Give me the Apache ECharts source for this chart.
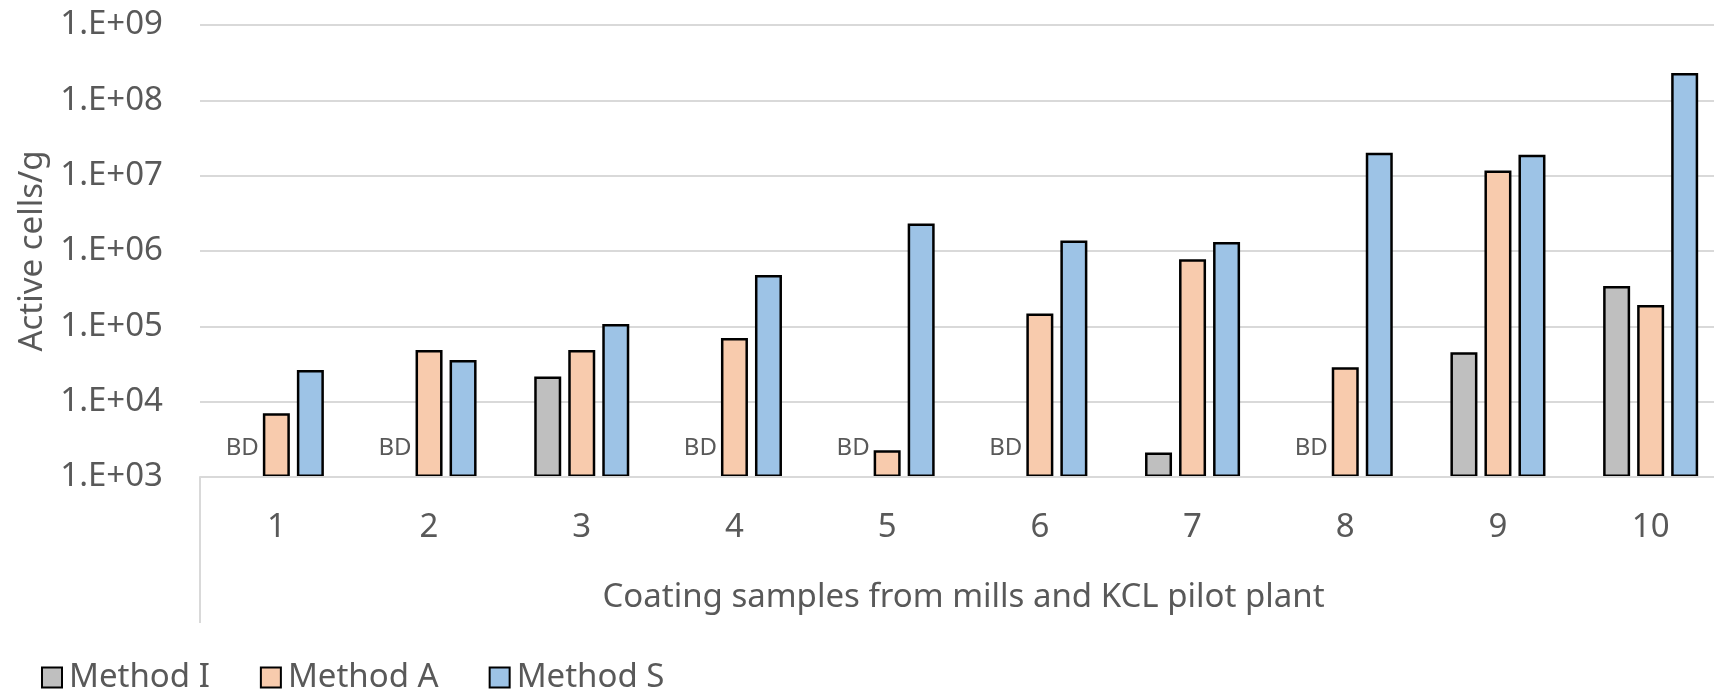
<!DOCTYPE html>
<html>
<head>
<meta charset="utf-8">
<title>Active cells/g</title>
<script src="https://cdn.jsdelivr.net/npm/echarts@6/dist/echarts.min.js"></script>
<style>
  html, body { margin: 0; padding: 0; background: #fff; }
  #chart { width: 1714px; height: 692px; }
</style>
</head>
<body>
<div id="chart"></div>
<script>
// samples on the x axis
const samples = ['1', '2', '3', '4', '5', '6', '7', '8', '9', '10']
// null = below detection (BD)
const methodI = [null, null, 21500, null, null, null, 2110, null, 45300, 344000]
const methodA = [7000, 48600, 48600, 70100, 2260, 148000, 778000, 28600, 11700000, 192000]
const methodS = [26300, 35800, 107000, 482000, 2320000, 1380000, 1320000, 20100000, 18900000, 230000000]
const yTickLabels = ['1.E+03', '1.E+04', '1.E+05', '1.E+06', '1.E+07', '1.E+08', '1.E+09']

const yMin = 1000
const textColor = '#595959'
const font = 'Noto Sans'

let myChart = echarts.init(document.getElementById('chart'), null, { renderer: 'canvas' })

const barStyle = color => ({ color: color, borderColor: '#000', borderWidth: 2.5 })

myChart.setOption({
  animation: false,
  textStyle: { fontFamily: font, color: textColor },
  grid: {
    left: 200,
    right: -13,
    top: 25,
    height: 452,
    outerBoundsMode: 'none'
  },
  legend: {
    data: ['Method I', 'Method A', 'Method S'],
    left: 36,
    top: 656,
    icon: 'rect',
    itemWidth: 20,
    itemHeight: 20,
    itemGap: 50,
    textStyle: { fontFamily: font, fontSize: 33, color: textColor, padding: [0, 0, 0, 2] }
  },
  xAxis: {
    type: 'category',
    data: samples,
    z: 5,
    name: 'Coating samples from mills and KCL pilot plant',
    nameLocation: 'middle',
    nameGap: 104,
    nameTextStyle: { fontFamily: font, fontSize: 33, color: textColor },
    axisLine: { lineStyle: { color: '#d9d9d9', width: 2 } },
    axisTick: { show: false },
    axisLabel: { fontFamily: font, fontSize: 33, color: textColor, margin: 34 }
  },
  yAxis: {
    type: 'log',
    logBase: 10,
    min: yMin,
    max: 1e9,
    interval: 1,
    startValue: yMin,
    name: 'Active cells/g',
    nameLocation: 'middle',
    nameGap: 150,
    nameTextStyle: { fontFamily: font, fontSize: 33, color: textColor },
    axisLine: { show: false },
    axisTick: { show: false },
    splitLine: { lineStyle: { color: '#d9d9d9', width: 2 } },
    axisLabel: {
      fontFamily: font,
      fontSize: 33,
      color: textColor,
      margin: 37,
      formatter: v => yTickLabels[Math.round(Math.log10(v)) - 3]
    }
  },
  series: [
    {
      name: 'Method I',
      type: 'bar',
      barWidth: 27,
      barGap: '26%',
      clip: true,
      itemStyle: barStyle('#bfbfbf'),
      data: methodI.map(v => v === null
        ? {
            value: yMin,
            itemStyle: { color: 'rgba(0,0,0,0)', borderWidth: 0 },
            label: { show: true, position: 'top', distance: 17, formatter: 'BD', fontFamily: font, fontSize: 24, color: textColor }
          }
        : v)
    },
    {
      name: 'Method A',
      type: 'bar',
      barWidth: 27,
      barGap: '26%',
      clip: true,
      itemStyle: barStyle('#f8cbad'),
      data: methodA
    },
    {
      name: 'Method S',
      type: 'bar',
      barWidth: 27,
      barGap: '26%',
      clip: true,
      itemStyle: barStyle('#9dc3e6'),
      data: methodS
    }
  ],
  graphic: [
    {
      type: 'line',
      shape: { x1: 200, y1: 477, x2: 200, y2: 623 },
      style: { stroke: '#d9d9d9', lineWidth: 2 }
    }
  ]
})

window.addEventListener('resize', () => { myChart.resize() })
</script>
</body>
</html>
